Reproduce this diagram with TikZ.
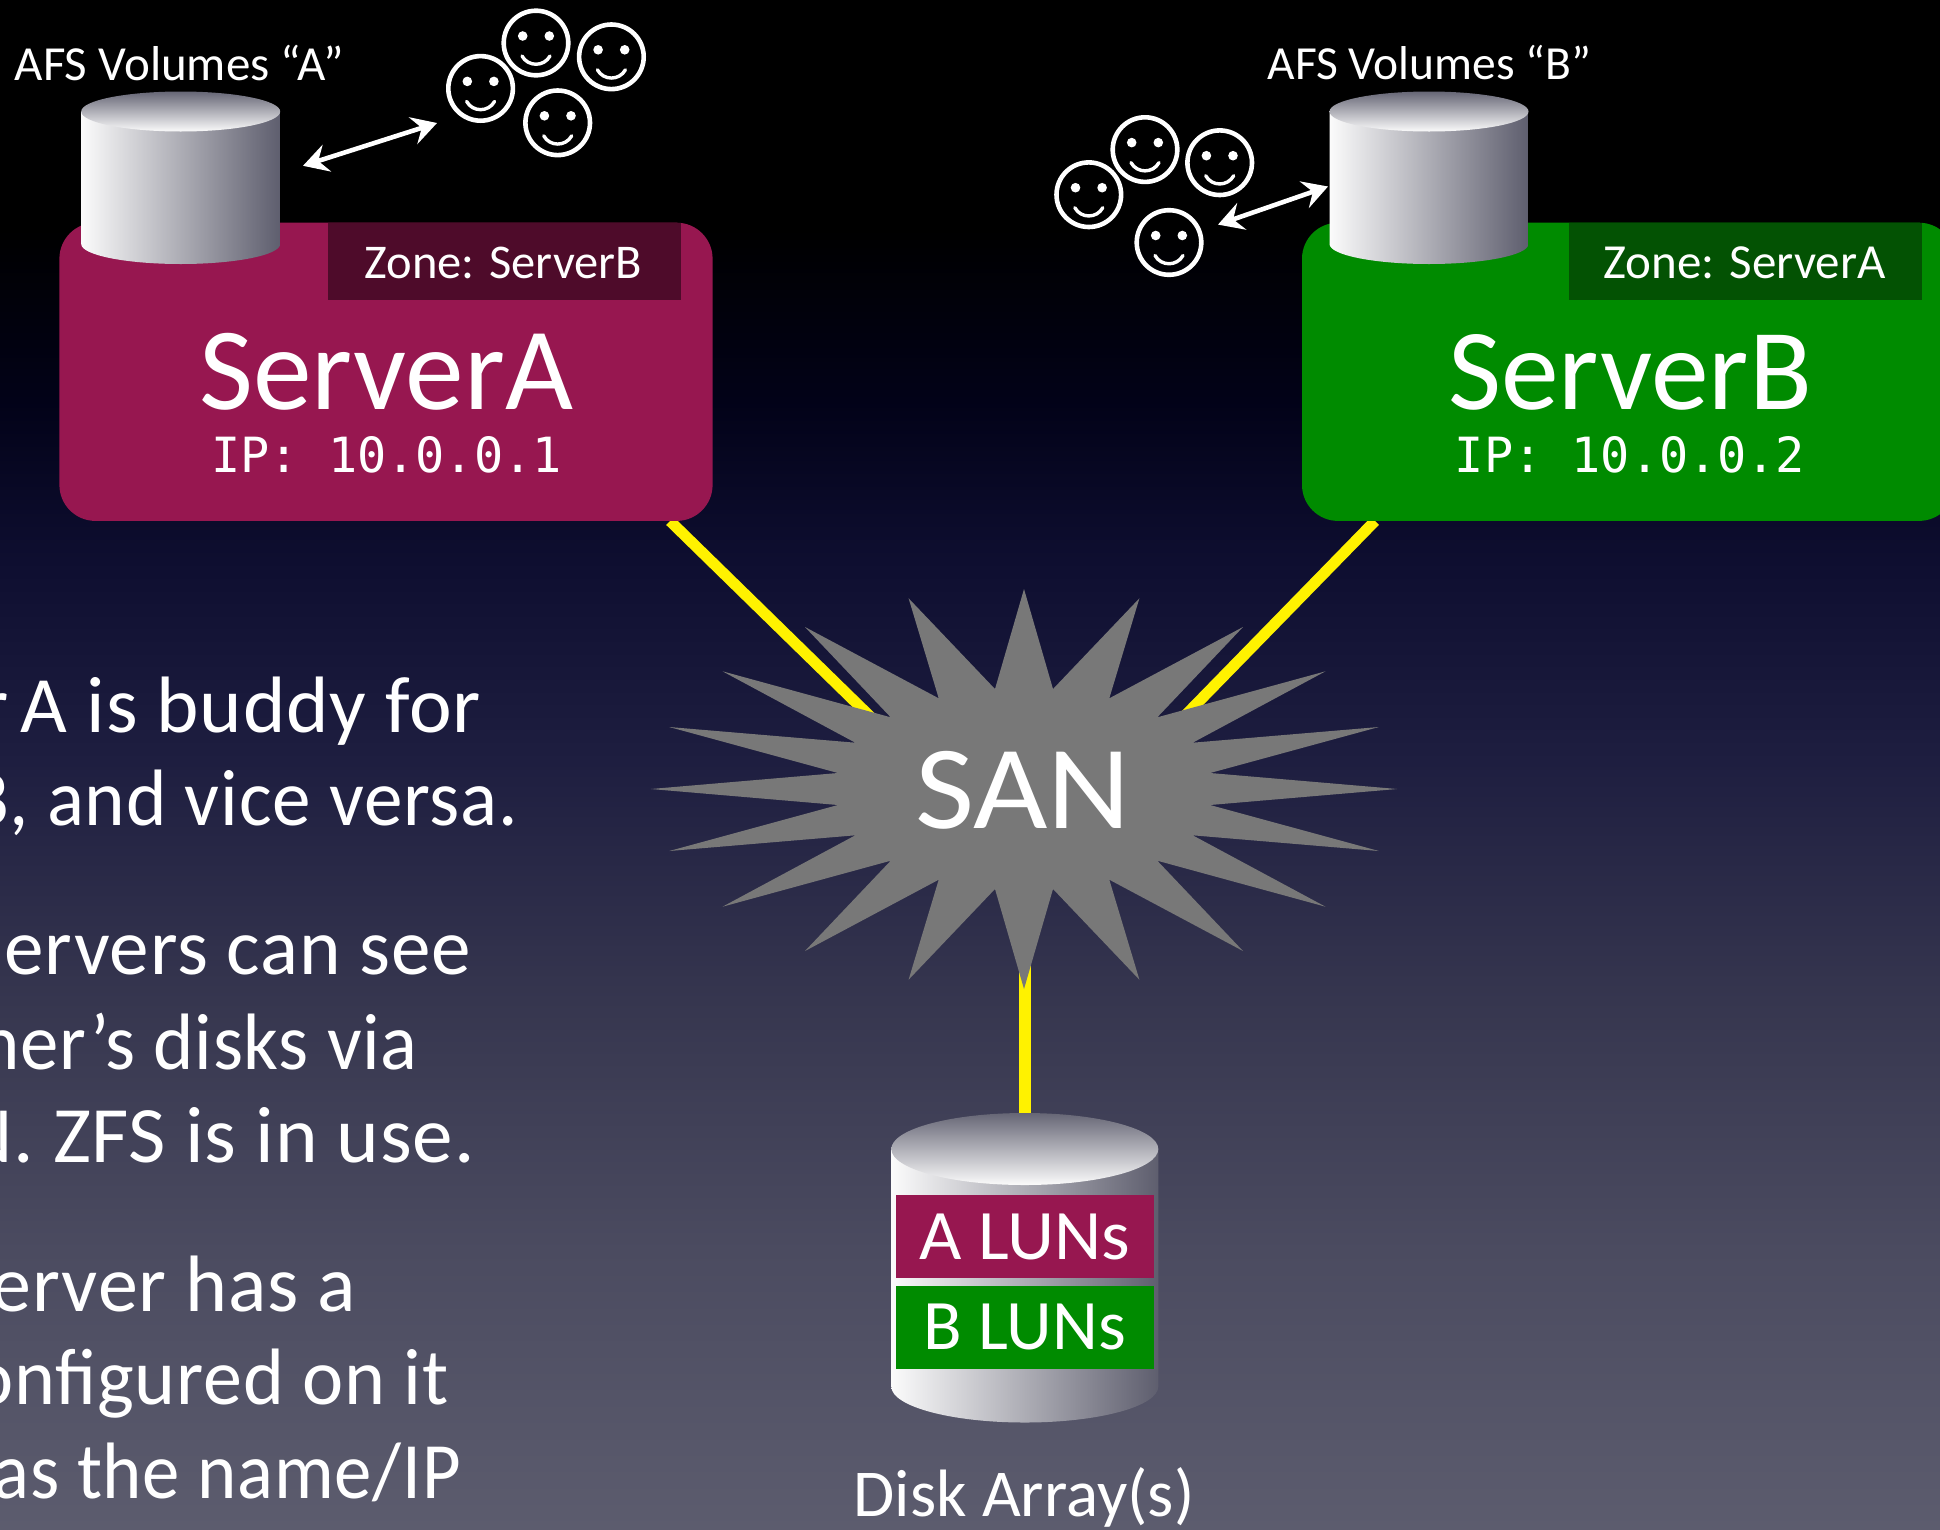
\documentclass[tikz,border=0pt]{standalone}
\usepackage{fontspec}
\setmainfont{Carlito}
\newfontfamily\ipfont{DejaVu Sans Mono}
\newfontfamily\bodyfont[LetterSpace=1]{Carlito}
\usetikzlibrary{arrows.meta}
\definecolor{bgA}{HTML}{5C5C6E}
\definecolor{bgB}{HTML}{4B4B60}
\definecolor{bgC}{HTML}{36364F}
\definecolor{bgD}{HTML}{1E1E40}
\definecolor{bgE}{HTML}{0E0E30}
\definecolor{bgF}{HTML}{020218}
\definecolor{bgG}{HTML}{000000}
\pgfdeclareverticalshading{bgshade}{100bp}{
 color(0bp)=(bgA); color(25bp)=(bgA); color(34.1bp)=(bgB); color(42.3bp)=(bgC); color(50.1bp)=(bgD); color(56.7bp)=(bgE); color(61.9bp)=(bgF); color(67.5bp)=(bgG); color(100bp)=(bgG)}
\definecolor{srvA}{HTML}{971750}
\definecolor{zoneA}{HTML}{4E0B2A}
\definecolor{srvB}{HTML}{008B00}
\definecolor{zoneB}{HTML}{035203}
\definecolor{starc}{HTML}{787878}
\definecolor{cylL}{HTML}{FBFBFB}
\definecolor{cylR}{HTML}{5E5E6E}
\tikzset{
 lbl/.style={text=white,inner sep=0pt,font=\fontsize{#1}{#1}\selectfont},
 lbl/.default=47,
 fiber/.style={draw=yellow,line width=11pt},
 clientlink/.style={draw=white,line width=4.6pt,{Stealth[length=25pt,width=28pt,inset=9pt]}-{Stealth[length=25pt,width=28pt,inset=9pt]}},
 band/.style={inner sep=0pt,minimum width=257.6pt,minimum height=83pt,text=white,font=\fontsize{71}{71}\selectfont},
 facering/.style={draw=white,line width=4.6pt,fill=none},
 body/.style={text=white,inner sep=0pt,anchor=base east,font=\bodyfont\fontsize{80}{80}\selectfont}
}
% a cylinder: cx, top centre y, bottom centre y, rx, ry
\newcommand{\cyl}[5]{%
 \shade[left color=cylL,right color=cylR] (#1-#4,#2) -- (#1-#4,#3) arc[start angle=180,end angle=360,x radius=#4,y radius=-#5] -- (#1+#4,#2) -- cycle;
 \shade[top color=cylR!95!white,bottom color=cylL] (#1,#2) ellipse[x radius=#4,y radius=#5];
}
% a smiling face at x, y
\newcommand{\face}[2]{%
 \draw[facering] (#1,#2) circle[radius=32.3];
 \fill[white] (#1-13.3,#2-7) circle[radius=4.8] (#1+13.3,#2-7) circle[radius=4.8];
 \draw[white,line width=3.4pt,line cap=round] (#1-14,#2+13) .. controls (#1-8,#2+24) and (#1+8,#2+24) .. (#1+14,#2+13);
}
\begin{document}
\begin{tikzpicture}[x=1pt,y=-1pt]
\useasboundingbox (0,0) rectangle (1940,1529);
\shade[shading=bgshade] (0,0) rectangle (1940,1529);
% named ends of the SAN links
\coordinate (aend) at (670,521);
\coordinate (bend) at (1375,521);
\coordinate (sana) at (885,731);
\coordinate (sanb) at (1172,729);
\coordinate (sand) at (1024.8,960);
\coordinate (arrayt) at (1024.8,1116);
\draw[fiber] (aend) -- (sana);
\draw[fiber] (bend) -- (sanb);
\draw[fiber,line width=11.5pt] (sand) -- (arrayt);
% SAN star
\fill[starc] (1024,789) +(0,-200) -- +(29,-100) -- +(115.4,-190.7) -- +(85.3,-90.7) -- +(219,-162) -- +(133.3,-71.7) -- +(301.5,-117.7) -- +(168.7,-46.3) -- +(354.8,-62) -- +(186.1,-16) -- +(373.2,0)
 -- +(186.1,16) -- +(354.8,62) -- +(168.7,46.3) -- +(301.5,117.7) -- +(133.3,71.7) -- +(219,162) -- +(85.3,90.7) -- +(115.4,190.7) -- +(29,100) -- +(0,200)
 -- +(-29,100) -- +(-115.4,190.7) -- +(-85.3,90.7) -- +(-219,162) -- +(-133.3,71.7) -- +(-301.5,117.7) -- +(-168.7,46.3) -- +(-354.8,62) -- +(-186.1,16) -- +(-373.2,0)
 -- +(-186.1,-16) -- +(-354.8,-62) -- +(-168.7,-46.3) -- +(-301.5,-117.7) -- +(-133.3,-71.7) -- +(-219,-162) -- +(-85.3,-90.7) -- +(-115.4,-190.7) -- +(-29,-100) -- cycle;
\node[lbl=119] (san) at (1023,790) {\scalebox{1.08}[1]{SAN}};
% Server A
\fill[srvA,rounded corners=36pt] (59.4,222.7) rectangle (712.6,520.9);
\fill[zoneA] (328,222.7) rectangle (681,299.6);
\node[lbl=48.5] (zonea) at (503.5,263) {Zone: ServerB};
\node[lbl=117.5] (servera) at (386,372) {ServerA};
\node[lbl=48.5] (ipa) at (386.5,455) {\ipfont IP: 10.0.0.1};
\cyl{180.7}{111.5}{244}{99.5}{20}
\node[lbl=49] (volsa) at (179.5,63) {AFS Volumes “A”};
% Server B
\fill[srvB,rounded corners=36pt] (1302,222.7) rectangle (1955,520.9);
\fill[zoneB] (1568.6,222.7) rectangle (1922,299.6);
\node[lbl=49] (zoneb) at (1744.5,263) {Zone: ServerA};
\node[lbl=115.6] (serverb) at (1630,372) {ServerB};
\node[lbl=48.5] (ipb) at (1630,455) {\ipfont IP: 10.0.0.2};
\cyl{1429}{111.5}{244}{99.5}{20}
\node[lbl=47.5] (volsb) at (1429.5,63) {AFS Volumes “B”};
% clients
\face{480.6}{88.4}\face{536}{43}\face{611.4}{56.8}\face{557.7}{122.8}
\face{1088.8}{194.7}\face{1145}{149.6}\face{1219.7}{162.7}\face{1169}{242.5}
\coordinate (ca1) at (303,165.8);
\coordinate (ca2) at (437,123);
\coordinate (cb1) at (1218,224.6);
\coordinate (cb2) at (1328,186.5);
\draw[clientlink] (ca1) -- (ca2);
\draw[clientlink] (cb1) -- (cb2);
% disk array
\cyl{1024.8}{1149}{1386.5}{133.5}{36}
\node[band,fill=srvA] (aluns) at (1024.8,1236.5) {\scalebox{1.03}[1]{A LUNs}};
\node[band,fill=srvB] (bluns) at (1024.8,1327.3) {B LUNs};
\node[lbl=67] (array) at (1024,1497) {Disk Array(s)};
% body text, cut off by the left edge as in the slide
\node[body] (t1) at (481,732) {\scalebox{1.01}[1]{r\hspace{-7pt} A is buddy for}};
\node[body] (t2) at (518,825) {\scalebox{.965}[1]{B, and vice versa.}};
\node[body] (t3) at (471,974) {\scalebox{.99}[1]{ervers can see}};
\node[body] (t4) at (418,1069) {\scalebox{.96}[1]{her’s disks via}};
\node[body] (t5) at (475,1162) {\scalebox{1.015}[1]{N. ZFS is in use.}};
\node[body] (t6) at (356,1311) {erver has a};
\node[body] (t7) at (449,1404) {\scalebox{.975}[1]{onfigured on it}};
\node[body] (t8) at (461,1498) {\scalebox{.935}[1]{as the name/IP}};
\end{tikzpicture}
\end{document}
